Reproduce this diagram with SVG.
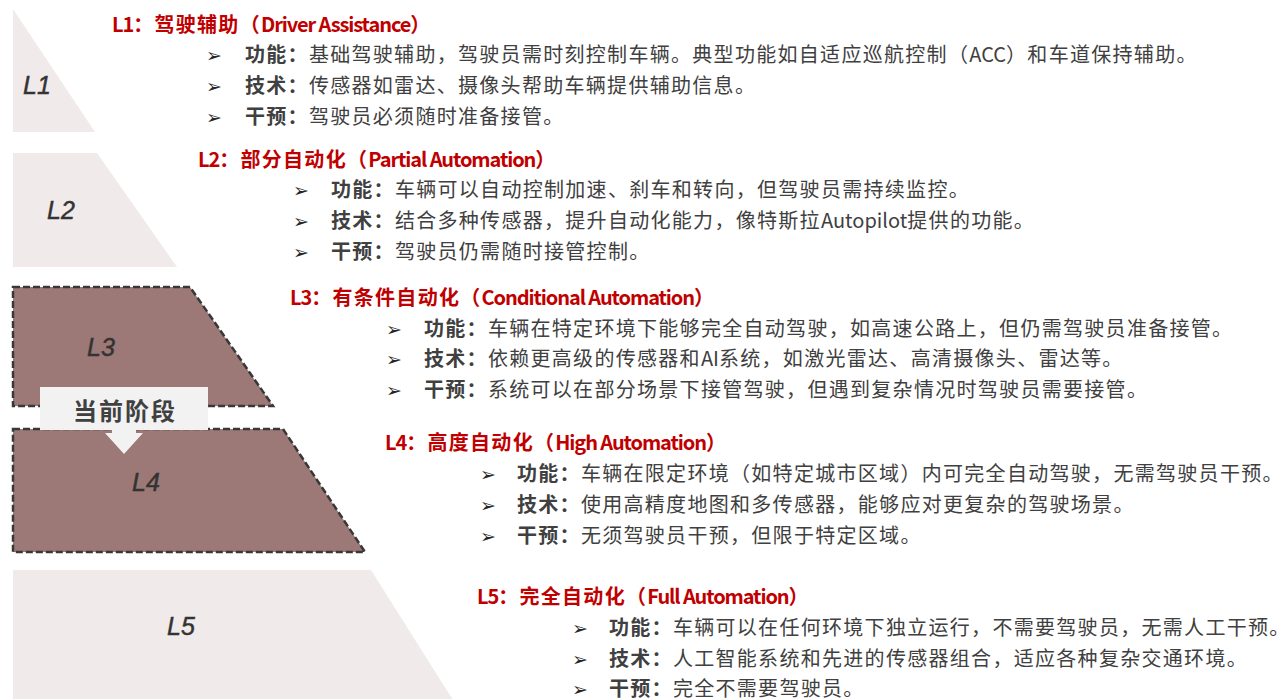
<svg xmlns="http://www.w3.org/2000/svg" width="1280" height="699" viewBox="0 0 1280 699">
<style>
.light{fill:#f0eaea;}
.dark{fill:#9c7876;stroke:#383838;stroke-width:2.5;stroke-dasharray:7 3;}
.lv{font-family:"Liberation Sans","DejaVu Sans",sans-serif;font-style:italic;font-size:25px;fill:#333333;stroke:#333333;stroke-width:0.45px;}
.h{font-family:"Noto Sans CJK SC",sans-serif;font-weight:bold;font-size:20px;letter-spacing:1.3px;fill:#c00000;}
.t{font-family:"Noto Sans CJK SC",sans-serif;font-size:20px;letter-spacing:1.3px;fill:#404040;}
.lat{letter-spacing:-1.1px;}
.latb{letter-spacing:0px;}
.b{font-weight:bold;}
.ar{font-family:"DejaVu Sans",sans-serif;font-size:19px;fill:#262626;}
.call{fill:#f2f2f2;}
.ct{font-family:"Noto Sans CJK SC",sans-serif;font-weight:bold;font-size:24px;fill:#404040;letter-spacing:2px;}
</style>
<rect width="1280" height="699" fill="#ffffff"/>

<g id="level-L1">
<polygon class="light" points="13,9 95,132 13,132"/>
<text class="lv" x="23" y="94">L1</text>
</g>
<g id="level-L2">
<polygon class="light" points="13,153 97,153 177,267 13,267"/>
<text class="lv" x="47" y="219">L2</text>
</g>
<g id="level-L3">
<polygon class="dark" points="13,287 190,287 273,406 13,406"/>
<text class="lv" x="87" y="356">L3</text>
</g>
<g id="level-L4">
<polygon class="dark" points="13,429 283,429 365,552 13,552"/>
<text class="lv" x="132" y="491">L4</text>
</g>
<g id="level-L5">
<polygon class="light" points="13,570 371,570 453,700 13,700"/>
<text class="lv" x="167" y="635">L5</text>
</g>

<g id="current-stage">
<path class="call" d="M40,387 H208 V430 H136 V433 H143 L124,454 L105,433 H112 V430 H40 Z"/>
<text class="ct" x="125" y="420" text-anchor="middle">当前阶段</text>
</g>

<g id="desc-L1">
<text class="h" x="112" y="32"><tspan class="lat">L1</tspan>：驾驶辅助（<tspan class="lat">Driver Assistance</tspan>）</text>
<text class="ar" x="206" y="62">➢</text>
<text class="t" x="245" y="62"><tspan class="b">功能：</tspan>基础驾驶辅助，驾驶员需时刻控制车辆。典型功能如自适应巡航控制（<tspan class="latb">ACC</tspan>）和车道保持辅助。</text>
<text class="ar" x="206" y="93">➢</text>
<text class="t" x="245" y="93"><tspan class="b">技术：</tspan>传感器如雷达、摄像头帮助车辆提供辅助信息。</text>
<text class="ar" x="206" y="124">➢</text>
<text class="t" x="245" y="124"><tspan class="b">干预：</tspan>驾驶员必须随时准备接管。</text>
</g>

<g id="desc-L2">
<text class="h" x="198" y="167"><tspan class="lat">L2</tspan>：部分自动化（<tspan class="lat">Partial Automation</tspan>）</text>
<text class="ar" x="293" y="197">➢</text>
<text class="t" x="331" y="197"><tspan class="b">功能：</tspan>车辆可以自动控制加速、刹车和转向，但驾驶员需持续监控。</text>
<text class="ar" x="293" y="228">➢</text>
<text class="t" x="331" y="228"><tspan class="b">技术：</tspan>结合多种传感器，提升自动化能力，像特斯拉<tspan class="latb">Autopilot</tspan>提供的功能。</text>
<text class="ar" x="293" y="259">➢</text>
<text class="t" x="331" y="259"><tspan class="b">干预：</tspan>驾驶员仍需随时接管控制。</text>
</g>

<g id="desc-L3">
<text class="h" x="290" y="305"><tspan class="lat">L3</tspan>：有条件自动化（<tspan class="lat">Conditional Automation</tspan>）</text>
<text class="ar" x="386" y="336">➢</text>
<text class="t" x="424" y="336"><tspan class="b">功能：</tspan>车辆在特定环境下能够完全自动驾驶，如高速公路上，但仍需驾驶员准备接管。</text>
<text class="ar" x="386" y="366">➢</text>
<text class="t" x="424" y="366"><tspan class="b">技术：</tspan>依赖更高级的传感器和<tspan class="latb">AI</tspan>系统，如激光雷达、高清摄像头、雷达等。</text>
<text class="ar" x="386" y="397">➢</text>
<text class="t" x="424" y="397"><tspan class="b">干预：</tspan>系统可以在部分场景下接管驾驶，但遇到复杂情况时驾驶员需要接管。</text>
</g>

<g id="desc-L4">
<text class="h" x="385" y="450"><tspan class="lat">L4</tspan>：高度自动化（<tspan class="lat">High Automation</tspan>）</text>
<text class="ar" x="480" y="481">➢</text>
<text class="t" x="517" y="481"><tspan class="b">功能：</tspan>车辆在限定环境（如特定城市区域）内可完全自动驾驶，无需驾驶员干预。</text>
<text class="ar" x="480" y="512">➢</text>
<text class="t" x="517" y="512"><tspan class="b">技术：</tspan>使用高精度地图和多传感器，能够应对更复杂的驾驶场景。</text>
<text class="ar" x="480" y="543">➢</text>
<text class="t" x="517" y="543"><tspan class="b">干预：</tspan>无须驾驶员干预，但限于特定区域。</text>
</g>

<g id="desc-L5">
<text class="h" x="477" y="604"><tspan class="lat">L5</tspan>：完全自动化（<tspan class="lat">Full Automation</tspan>）</text>
<text class="ar" x="572" y="635">➢</text>
<text class="t" x="609" y="635"><tspan class="b">功能：</tspan>车辆可以在任何环境下独立运行，不需要驾驶员，无需人工干预。</text>
<text class="ar" x="572" y="666">➢</text>
<text class="t" x="609" y="666"><tspan class="b">技术：</tspan>人工智能系统和先进的传感器组合，适应各种复杂交通环境。</text>
<text class="ar" x="572" y="696">➢</text>
<text class="t" x="609" y="696"><tspan class="b">干预：</tspan>完全不需要驾驶员。</text>
</g>

<g id="connectors"></g>
</svg>
